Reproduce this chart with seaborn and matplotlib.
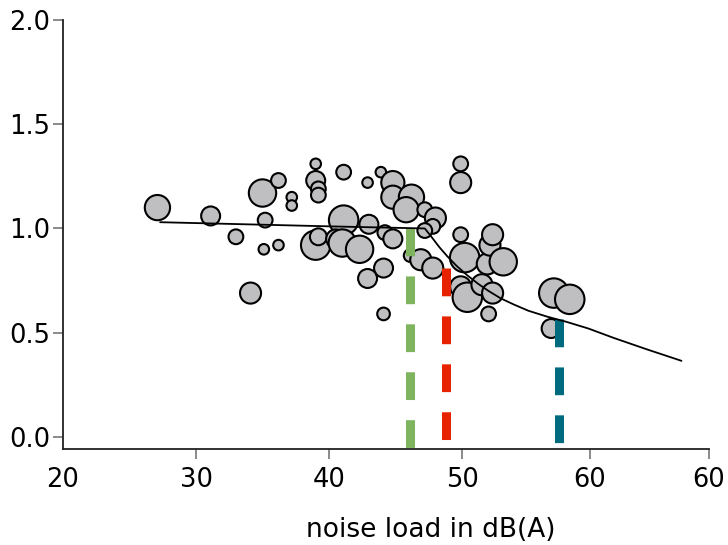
import matplotlib
matplotlib.use("Agg")
import matplotlib.pyplot as plt
import seaborn as sns
import pandas as pd

# noise load (dB(A)), outcome value and bubble weight for every study point
noise = [27.1, 31.1, 35.0, 36.2, 37.2, 37.2, 39.0, 39.0, 39.2, 39.2,
         35.2, 33.0, 35.1, 36.2, 34.1, 39.0, 39.2, 41.1, 42.9, 43.9,
         44.8, 44.8, 46.2, 45.8, 47.2, 48.0, 47.8, 47.2, 49.9, 49.9,
         41.1, 43.0, 44.2, 44.8, 40.5, 41.0, 42.3, 46.1, 46.9, 47.8,
         44.1, 42.9, 44.1, 49.9, 50.2, 49.9, 50.4, 51.9, 52.1, 52.3,
         53.1, 51.5, 52.3, 52.0, 56.9, 58.1, 56.7]
value = [1.10, 1.06, 1.17, 1.23, 1.15, 1.11, 1.31, 1.23, 1.19, 1.16,
         1.04, 0.96, 0.90, 0.92, 0.69, 0.92, 0.96, 1.27, 1.22, 1.27,
         1.22, 1.15, 1.15, 1.09, 1.09, 1.05, 1.01, 0.99, 1.31, 1.22,
         1.04, 1.02, 0.98, 0.95, 0.95, 0.93, 0.90, 0.87, 0.85, 0.81,
         0.81, 0.76, 0.59, 0.97, 0.86, 0.72, 0.67, 0.83, 0.92, 0.97,
         0.84, 0.73, 0.69, 0.59, 0.69, 0.66, 0.52]
weight = [144, 81, 169, 49, 25, 25, 25, 81, 49, 49,
          49, 49, 25, 25, 100, 196, 64, 49, 25, 25,
          121, 121, 144, 144, 49, 100, 49, 49, 49, 100,
          196, 81, 49, 81, 81, 169, 169, 36, 100, 100,
          81, 81, 36, 49, 196, 100, 196, 100, 100, 100,
          169, 100, 100, 49, 196, 196, 81]

# fitted exposure-response curve
curve_x = [27.3, 40.1, 47.2, 47.7, 48.3, 48.9, 49.6, 50.4, 51.2, 52.0,
           52.9, 53.9, 55.0, 56.4, 57.8, 59.5, 61.4, 63.9, 66.5]
curve_y = [1.03, 1.01, 1.00, 0.96, 0.91, 0.866, 0.82, 0.775, 0.735, 0.70,
           0.665, 0.635, 0.605, 0.577, 0.553, 0.52, 0.475, 0.42, 0.365]

# threshold markers
thr_x = [46.1, 48.8, 57.3]
thr_top = [1.00, 0.81, 0.567]
thr_colors = ["#7fb45f", "#e62200", "#006b7f"]

xticks = [20, 30, 40, 50, 59.6, 68.57]
xticklabels = ["20", "30", "40", "50", "60", "60"]
yticks = [0.0, 0.5, 1.0, 1.5, 2.0]

sns.set_style("white")
plt.rcParams["font.family"] = ["DejaVu Sans"]
plt.rcParams["lines.scale_dashes"] = False

df = pd.DataFrame({"noise": noise, "value": value, "weight": weight})

fig = plt.figure(figsize=(7.28, 5.45), dpi=100)
ax = fig.add_axes([63 / 728, 1 - 449 / 545, 646 / 728, 429 / 545])

sns.scatterplot(data=df, x="noise", y="value", size="weight", sizes=(58, 450),
                color="#bfbfc1", edgecolor="black", linewidth=1.5,
                alpha=1, legend=False, ax=ax, zorder=2)

ymin = -0.058
for xv, top, col in zip(thr_x, thr_top, thr_colors):
    ax.plot([xv, xv], [top, ymin], color=col, lw=6.5, dashes=(20, 14.5),
            solid_capstyle="butt", dash_capstyle="butt", zorder=3)

sns.lineplot(x=curve_x, y=curve_y, color="black", lw=1.3, sort=False,
             estimator=None, ax=ax, zorder=4)

ax.set_xlim(20, 68.57)
ax.set_ylim(ymin, 2.0)
ax.set_xticks(xticks)
ax.set_xticklabels(xticklabels)
ax.set_yticks(yticks)
ax.set_yticklabels([f"{t:.1f}" for t in yticks])

for side in ["top", "right"]:
    ax.spines[side].set_visible(False)
for side in ["left", "bottom"]:
    ax.spines[side].set_color("#222222")
    ax.spines[side].set_linewidth(1.3)

ax.tick_params(axis="both", direction="out", length=7, width=1.2,
               colors="#777777", labelcolor="black", labelsize=18.5,
               bottom=True, left=True)
ax.tick_params(axis="y", pad=2)
ax.tick_params(axis="x", pad=6)
xt = ax.xaxis.get_major_ticks()
xt[0].tick1line.set_visible(False)
xt[-1].tick1line.set_color("black")

ax.set_ylabel("")
ax.set_xlabel("noise load in dB(A)", fontsize=19, color="black")
ax.xaxis.set_label_coords(0.57, -0.158)

fig.savefig("out.png", dpi=100)
